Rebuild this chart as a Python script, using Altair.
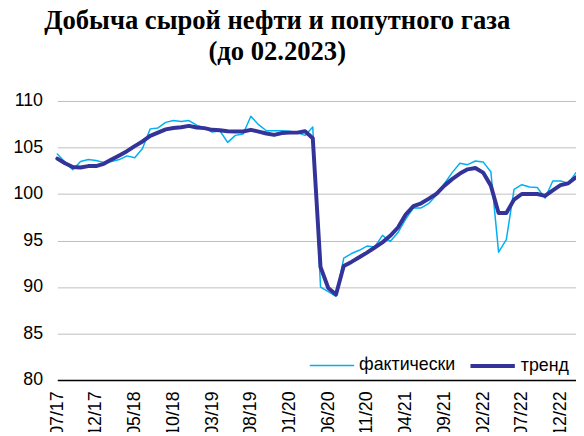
import altair as alt
import pandas as pd

title_lines = ["Добыча сырой нефти и попутного газа", "(до 02.2023)"]
series_names = ["фактически", "тренд"]
series_colors = ["#00B0F0", "#333399"]
series_widths = [1.5, 4.0]

# monthly categories 07/17 ... 02/23
months = [f"{(6 + k) % 12 + 1:02d}/{17 + (6 + k) // 12:02d}" for k in range(68)]
tick_labels = months[::5]
y_ticks = [80, 85, 90, 95, 100, 105, 110]

actual = [
    104.3, 103.4, 102.6, 103.5, 103.7, 103.6, 103.4, 103.5, 103.7, 104.1,
    103.9, 104.9, 107.0, 107.1, 107.7, 107.9, 107.8, 107.9, 107.4, 107.1,
    106.65, 106.8, 105.55, 106.3, 106.45, 108.35, 107.45, 106.8, 106.8, 106.8,
    106.75, 106.6, 106.3, 107.2, 90.0, 89.5, 89.0, 93.1, 93.6, 93.95,
    94.4, 94.3, 95.55, 94.9, 95.85, 97.3, 98.5, 98.5, 99.0, 99.9,
    101.1, 102.3, 103.3, 103.15, 103.55, 103.45, 102.4, 93.75, 95.1, 100.5,
    101.0, 100.75, 100.7, 99.55, 101.4, 101.4, 101.15, 102.3,
]
trend = [
    103.8, 103.3, 102.9, 102.85, 103.0, 103.0, 103.25, 103.7, 104.15, 104.6,
    105.15, 105.65, 106.25, 106.6, 106.95, 107.1, 107.17, 107.33, 107.15, 107.08,
    106.9, 106.85, 106.75, 106.72, 106.72, 106.9, 106.7, 106.5, 106.35, 106.55,
    106.6, 106.6, 106.75, 106.0, 92.15, 89.9, 89.2, 92.25, 92.7, 93.2,
    93.7, 94.25, 94.8, 95.5, 96.4, 97.8, 98.7, 99.0, 99.5, 100.05,
    100.9, 101.6, 102.2, 102.65, 102.8, 102.3, 100.9, 97.95, 97.95, 99.4,
    100.0, 100.0, 100.0, 99.8, 100.4, 100.95, 101.15, 101.8,
]

rows = []
for name, vals in zip(series_names, [actual, trend]):
    for m, v in zip(months, vals):
        rows.append({"month": m, "series": name, "value": v})
df = pd.DataFrame(rows)

legend_params = dict(
    orient="none", legendX=255, legendY=244, direction="horizontal", title=None,
    labelFont="Liberation Sans", labelFontSize=18, labelColor="black",
    symbolType="stroke", symbolSize=2025, labelOffset=4, columnPadding=7, padding=0,
)

chart = alt.Chart(df).mark_line(strokeJoin="round", strokeCap="round").encode(
    x=alt.X("month:O", sort=months, scale=alt.Scale(type="point", padding=0),
            axis=alt.Axis(values=tick_labels, labelAngle=270, labelFont="Liberation Sans",
                          labelFontSize=18, labelColor="black", labelPadding=11,
                          ticks=False, domainColor="black", domainWidth=1.5,
                          grid=False, title=None, labelOverlap=False)),
    y=alt.Y("value:Q", scale=alt.Scale(domain=[80, 110], nice=False, zero=False),
            axis=alt.Axis(values=y_ticks, grid=True, gridColor="#BFBFBF", gridWidth=1,
                          domain=False, ticks=False, labelPadding=15,
                          labelFont="Liberation Sans", labelFontSize=18,
                          labelColor="black", title=None)),
    color=alt.Color("series:N", sort=series_names,
                    scale=alt.Scale(domain=series_names, range=series_colors),
                    legend=alt.Legend(**legend_params)),
    strokeWidth=alt.StrokeWidth("series:N", sort=series_names,
                                scale=alt.Scale(domain=series_names, range=series_widths),
                                legend=alt.Legend(**legend_params)),
    order=alt.Order("series:N"),
).properties(
    width=526, height=283,
    autosize=alt.AutoSizeParams(type="none"),
    padding={"left": 50, "top": 91.3, "right": 0, "bottom": 50},
    title=alt.TitleParams(text=title_lines, font="Liberation Serif", fontSize=27,
                          fontWeight="bold", color="black", anchor="middle",
                          dx=-40, dy=-17, lineHeight=31, offset=10),
).configure_view(strokeWidth=0)

chart.save("out.html", embed_options={"renderer": "svg", "actions": False})
